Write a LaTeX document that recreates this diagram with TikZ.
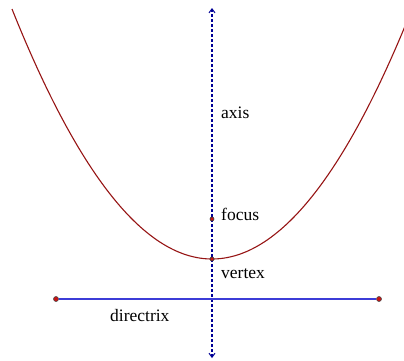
\documentclass[tikz,border=0pt]{standalone}
\usepackage{fontspec}
\setmainfont{Liberation Serif}
\usetikzlibrary{arrows.meta}
\definecolor{curvered}{RGB}{150,20,20}
\definecolor{axisblue}{RGB}{0,0,150}
\definecolor{dirblue}{RGB}{60,60,215}
\definecolor{ptred}{RGB}{200,20,20}
\begin{document}
\begin{tikzpicture}[x=1pt,y=-1pt,
  lbl/.style={anchor=base west,inner sep=0pt,font=\fontsize{17.5}{20}\selectfont},
  pt/.style={circle,draw=black!80,fill=ptred,inner sep=0pt,minimum size=4pt,line width=0.6pt},
  endpt/.style={circle,draw=black!70,fill=ptred,inner sep=0pt,minimum size=5pt,line width=0.6pt}]
\useasboundingbox (0,0) rectangle (404,360);
\begin{scope}
\clip (0,0) rectangle (404,360);
\draw[curvered,line width=1.1pt,domain=-20:20,samples=120,smooth] plot ({212+10*\x},{259-\x*\x/1.6});
\end{scope}
\coordinate (top) at (212,8);
\coordinate (bot) at (212,358);
\draw[axisblue,line width=2.2pt,dash pattern=on 3pt off 2pt,{Straight Barb[length=4pt,width=6pt,line width=1pt]}-{Straight Barb[length=4pt,width=6pt,line width=1pt]}] (top) -- (bot);
\node[endpt] (d1) at (56,299) {};
\node[endpt] (d2) at (379,299) {};
\draw[dirblue,line width=1.1pt] (d1) -- (d2);
\node[pt] (focus) at (212,219) {};
\node[pt] (vertex) at (212,259) {};
\node[lbl] (laxis) at (221,118) {axis};
\node[lbl] (lfocus) at (221,220) {focus};
\node[lbl] (lvertex) at (221,278) {vertex};
\node[lbl] (ldir) at (110,321) {directrix};
\end{tikzpicture}
\end{document}
